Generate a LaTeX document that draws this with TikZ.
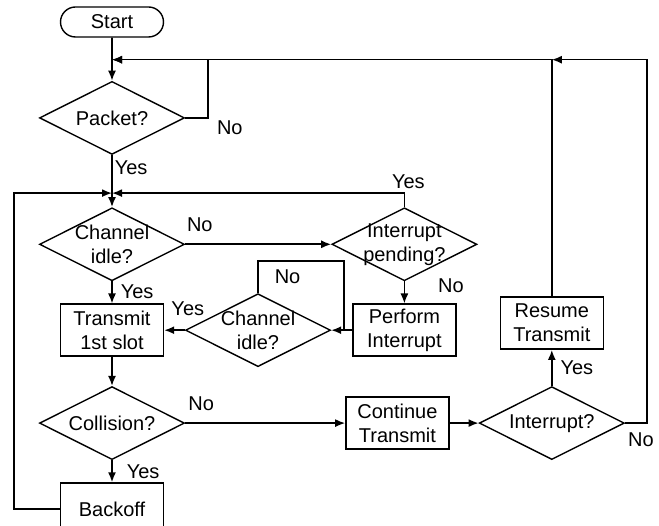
\documentclass[tikz,border=0pt]{standalone}
\usepackage{fontspec}
\setmainfont{Liberation Sans}
\usepackage{tikz}
\usetikzlibrary{shapes.misc, shapes.geometric}
\usetikzlibrary{arrows.meta}
\usetikzlibrary{positioning, calc}
\tikzset{>={Latex[length=10pt, width=8pt]}}
\tikzset{flow-line/.style={line width=1.6pt}}
\tikzset{flow-box/.style={draw, line width=1.4pt, inner sep=0, minimum width=103pt, minimum height=52pt, align=center}}
\tikzset{flow-start/.style={flow-box, rounded rectangle, minimum height=30pt}}
\tikzset{flow-decision/.style={draw, diamond, line width=1.4pt, inner sep=0, minimum width=145pt, minimum height=73pt}}
\tikzset{flow-label/.style={inner sep=2pt}}

\begin{document}
\begin{tikzpicture}[x=1pt, y=-1pt, font=\fontsize{20}{24}\selectfont, every label/.style={align=center}]
    \useasboundingbox (0,0) rectangle (659,526);

    % main column
    \node[flow-start] (start) at (112,22) {Start};
    \coordinate[below=22pt of start] (jtop);
    \node[flow-decision, below=43pt of start, label=center:Packet?] (packet) {};
    \node[flow-decision, below=52pt of packet, label={center:Channel\\idle?}] (chidle) {};
    \coordinate[above=14pt of chidle] (jmid);
    \node[flow-box, below=22pt of chidle] (transmit) {Transmit\\1st slot};
    \node[flow-decision, below=29pt of transmit, label=center:Collision?] (collision) {};
    \node[flow-box, below=22pt of collision] (backoff) {Backoff};

    % interrupt branch
    \node[flow-decision, right=146pt of chidle, label={center:Interrupt\\pending?}] (intpend) {};
    \node[flow-box, below=22pt of intpend] (perform) {Perform\\Interrupt};
    \node[flow-decision, left=21pt of perform, label={center:Channel\\idle?}] (chidle2) {};

    % transmit branch
    \node[flow-box, right=160pt of collision] (continue) {Continue\\Transmit};
    \node[flow-decision, right=29pt of continue, label=center:Interrupt?] (interrupt) {};
    \node[flow-box, above=36pt of interrupt] (resume) {Resume\\Transmit};

    \draw[->, flow-line] (start) -- (packet);
    \draw[->, flow-line] (packet.east) -- ++(23,0) node[flow-label, below right, xshift=6pt] {No} |- (jtop);
    \draw[->, flow-line] (packet) -- node[flow-label, right, pos=0.25] {Yes} (chidle);
    \draw[->, flow-line] (chidle) -- node[flow-label, right, pos=0.45, xshift=6pt] {Yes} (transmit);
    \draw[->, flow-line] (chidle) -- node[flow-label, above, pos=0.1, yshift=10pt] {No} (intpend);
    \draw[->, flow-line] (intpend.north) |- node[flow-label, above, pos=0.5, xshift=4pt, yshift=2pt] {Yes} (jmid);
    \draw[->, flow-line] (intpend) -- node[flow-label, right, pos=0.2, xshift=31pt] {No} (perform);
    \draw[->, flow-line] (perform) -- (chidle2);
    \draw[flow-line] (chidle2.north) -- node[flow-label, right, xshift=14pt] {No} ++(0,-32)
        -| ($(chidle2.east)!0.6!(perform.west)$);
    \draw[->, flow-line] (chidle2) -- node[flow-label, above, pos=0, xshift=3pt, yshift=12pt] {Yes} (transmit);
    \draw[->, flow-line] (transmit) -- (collision);
    \draw[->, flow-line] (collision) -- node[flow-label, above, pos=0.1, yshift=10pt] {No} (continue);
    \draw[->, flow-line] (collision) -- node[flow-label, right, xshift=12pt] {Yes} (backoff);
    \draw[->, flow-line] (backoff.west) -- ++(-46,0) |- (jmid);
    \draw[->, flow-line] (continue) -- (interrupt);
    \draw[->, flow-line] (interrupt) -- node[flow-label, right, xshift=6pt] {Yes} (resume);
    \draw[->, flow-line] (resume) |- (jtop);
    \draw[->, flow-line] (interrupt.east) -- ++(22,0) node[flow-label, below, xshift=-6pt, yshift=-7pt] {No} |- (resume |- jtop);
\end{tikzpicture}
\end{document}
